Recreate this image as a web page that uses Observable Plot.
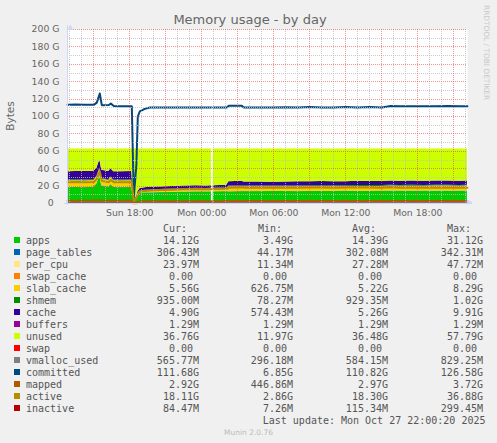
<!DOCTYPE html>
<html><head><meta charset="utf-8">
<script src="https://cdn.jsdelivr.net/npm/d3@7"></script>
<script src="https://cdn.jsdelivr.net/npm/@observablehq/plot@0.6"></script>
<style>
html,body{margin:0;padding:0;background:#F0F0F0;}
#wrap{position:relative;width:497px;height:443px;overflow:hidden;background:#F0F0F0;}
#chart{position:absolute;left:0;top:0;}
#overlay{position:absolute;left:0;top:0;pointer-events:none;}
</style></head>
<body><div id="wrap"><div id="chart"></div><svg id="overlay" width="497" height="443"></svg></div>
<script>
// ---- data (values in GB) ----
const times = [
"2025-10-26T12:49Z","2025-10-26T13:30Z","2025-10-26T14:15Z","2025-10-26T15:00Z","2025-10-26T15:15Z","2025-10-26T15:30Z","2025-10-26T15:40Z","2025-10-26T16:15Z","2025-10-26T16:25Z","2025-10-26T16:40Z","2025-10-26T17:15Z","2025-10-26T18:10Z",
"2025-10-26T18:20Z","2025-10-26T18:33Z","2025-10-26T18:40Z","2025-10-26T18:50Z",
"2025-10-26T19:15Z","2025-10-26T19:40Z","2025-10-26T20:30Z","2025-10-26T21:30Z","2025-10-26T22:30Z","2025-10-26T23:30Z",
"2025-10-27T00:20Z","2025-10-27T00:48Z","2025-10-27T00:57Z","2025-10-27T02:05Z",
"2025-10-27T02:15Z","2025-10-27T03:20Z","2025-10-27T03:30Z","2025-10-27T04:30Z","2025-10-27T06:00Z",
"2025-10-27T07:00Z","2025-10-27T08:00Z","2025-10-27T09:00Z","2025-10-27T10:00Z","2025-10-27T11:00Z","2025-10-27T12:00Z","2025-10-27T13:00Z","2025-10-27T14:00Z","2025-10-27T15:00Z",
"2025-10-27T15:45Z","2025-10-27T16:30Z","2025-10-27T17:30Z","2025-10-27T18:30Z","2025-10-27T19:30Z","2025-10-27T20:30Z","2025-10-27T21:30Z","2025-10-27T22:08Z"];
const gapAt = "2025-10-27T00:52Z"; // missing samples

const apps = [18.2,18.4,18.1,18.6,22.0,31.1,20.0,18.5,21.5,18.3,18.2,18.3, 3.49,5.5,9.5,11.6, 12.0,12.1,12.3,12.6,12.9,13.2, 13.1,13.2,13.3,13.5, 13.3,13.5,13.4,13.6,13.7, 13.8,13.6,13.9,13.7,13.8,14.0,13.8,13.9,14.0, 14.1,14.0,14.1,14.0,14.2,14.1,14.0,14.12];
const page_tables = [0.33,0.33,0.33,0.33,0.33,0.34,0.33,0.33,0.33,0.33,0.33,0.33, 0.044,0.1,0.2,0.25, 0.28,0.29,0.30,0.30,0.30,0.30, 0.30,0.30,0.30,0.30, 0.30,0.30,0.30,0.30,0.30, 0.30,0.30,0.30,0.30,0.30,0.30,0.30,0.30,0.30, 0.30,0.30,0.30,0.30,0.30,0.30,0.30,0.306];
const per_cpu = [0.03,0.03,0.03,0.03,0.03,0.03,0.03,0.03,0.03,0.03,0.03,0.03, 0.011,0.02,0.024,0.024, 0.024,0.024,0.024,0.024,0.024,0.024, 0.024,0.024,0.024,0.024, 0.024,0.024,0.024,0.024,0.024, 0.024,0.024,0.024,0.024,0.024,0.024,0.024,0.024,0.024, 0.024,0.024,0.024,0.024,0.024,0.024,0.024,0.024];
const swap_cache = [0,0,0,0,0,0,0,0,0,0,0,0, 0,0,0,0, 0,0,0,0,0,0, 0,0,0,0, 0,0,0,0,0, 0,0,0,0,0,0,0,0,0, 0,0,0,0,0,0,0,0];
const slab_cache = [7.4,7.4,7.5,7.6,7.7,8.2,7.5,7.5,7.6,7.4,7.4,7.5, 0.63,0.9,1.5,2.0, 2.3,2.5,2.7,2.9,3.0,3.2, 3.1,3.2,3.3,3.5, 5.6,5.8,5.4,5.2,5.1, 5.2,5.4,5.3,5.5,5.3,5.2,5.5,5.4,5.3, 5.6,5.4,5.5,5.4,5.5,5.6,5.5,5.56];
const shmem = [1.0,1.0,1.0,1.0,1.0,1.02,1.0,1.0,1.0,1.0,1.0,1.0, 0.078,0.15,0.3,0.45, 0.55,0.6,0.65,0.7,0.75,0.8, 0.8,0.8,0.8,0.82, 0.9,0.9,0.9,0.9,0.92, 0.92,0.93,0.93,0.93,0.93,0.93,0.93,0.93,0.93, 0.94,0.93,0.93,0.93,0.94,0.93,0.93,0.935];
const cache = [9.4,9.6,9.7,9.5,9.2,9.6,9.5,9.5,9.6,9.5,9.6,9.5, 0.574,1.0,1.8,2.6, 3.0,3.1,3.1,3.0,3.0,2.9, 2.7,2.8,2.8,2.9, 4.9,5.0,4.8,4.6,4.5, 4.6,4.7,4.6,4.8,4.7,4.6,4.9,4.8,4.7, 5.0,4.8,4.9,4.8,4.9,4.9,4.9,4.90];
const buffers = [0.0013,0.0013,0.0013,0.0013,0.0013,0.0013,0.0013,0.0013,0.0013,0.0013,0.0013,0.0013, 0.0013,0.0013,0.0013,0.0013, 0.0013,0.0013,0.0013,0.0013,0.0013,0.0013, 0.0013,0.0013,0.0013,0.0013, 0.0013,0.0013,0.0013,0.0013,0.0013, 0.0013,0.0013,0.0013,0.0013,0.0013,0.0013,0.0013,0.0013,0.0013, 0.0013,0.0013,0.0013,0.0013,0.0013,0.0013,0.0013,0.0013];
const unused = [26.24,25.84,25.94,25.54,22.34,12.32,24.24,25.74,22.54,26.04,26.04,25.94, 57.79,54.93,49.28,45.68, 44.45,43.99,43.53,43.08,42.63,42.18, 42.58,42.28,42.08,41.56, 37.58,37.08,37.78,37.98,38.06, 37.76,37.65,37.55,37.35,37.55,37.55,37.15,37.25,37.35, 36.64,37.15,36.85,37.15,36.74,36.75,36.95,36.76];
const swap = [0,0,0,0,0,0,0,0,0,0,0,0, 0,0,0,0, 0,0,0,0,0,0, 0,0,0,0, 0,0,0,0,0, 0,0,0,0,0,0,0,0,0, 0,0,0,0,0,0,0,0];
const vmalloc_used = [0.62,0.62,0.62,0.62,0.62,0.62,0.62,0.62,0.62,0.62,0.62,0.62, 0.296,0.35,0.45,0.5, 0.55,0.56,0.57,0.58,0.58,0.58, 0.58,0.58,0.58,0.58, 0.58,0.58,0.58,0.58,0.58, 0.58,0.58,0.58,0.58,0.58,0.58,0.58,0.58,0.58, 0.57,0.58,0.58,0.57,0.58,0.57,0.57,0.566];
const committed = [113.6,113.8,113.6,113.4,116.0,126.5,113.0,113.2,114.8,112.0,111.8,111.9, 6.85,45.0,100.0,106.0, 108.8,110.3,110.3,110.4,110.3,110.4, 110.3,110.3,110.3,110.3, 112.3,112.3,110.3,110.4,110.3, 110.5,110.3,110.8,110.4,110.3,110.9,110.4,110.8,110.4, 112.0,111.7,111.8,111.7,111.8,112.2,111.8,111.68];
const mapped = [3.3,3.3,3.3,3.4,3.5,3.72,3.4,3.3,3.4,3.3,3.3,3.3, 0.447,1.2,2.0,2.4, 2.5,2.5,2.6,2.6,2.6,2.7, 2.7,2.7,2.7,2.7, 2.9,2.9,2.9,2.9,2.9, 2.9,3.0,2.9,3.0,2.9,3.0,3.0,2.9,3.0, 3.0,2.9,3.0,2.9,3.0,2.9,2.9,2.92];
const active = [24.4,24.6,24.3,24.8,28.0,36.8,26.0,24.5,27.0,24.4,24.3,24.4, 2.86,6.0,10.0,13.5, 14.5,15.0,15.4,15.9,16.3,16.6, 16.3,16.5,16.6,16.9, 18.2,18.6,18.2,18.0,18.0, 18.1,18.2,18.3,18.3,18.2,18.3,18.4,18.3,18.2, 18.6,18.2,18.1,18.2,18.2,18.1,18.1,18.11];
const inactive = [0.25,0.27,0.26,0.28,0.29,0.3,0.27,0.26,0.28,0.25,0.24,0.24, 0.007,0.02,0.04,0.06, 0.08,0.09,0.1,0.1,0.11,0.11, 0.11,0.11,0.11,0.12, 0.12,0.12,0.11,0.11,0.12, 0.11,0.12,0.11,0.12,0.11,0.12,0.11,0.11,0.12, 0.1,0.09,0.1,0.09,0.09,0.09,0.08,0.084];

// legend
const names = ["apps","page_tables","per_cpu","swap_cache","slab_cache","shmem","cache","buffers","unused","swap","vmalloc_used","committed","mapped","active","inactive"];
const colors = ["#00CC00","#0066B3","#FFE680","#FF8000","#FFCC00","#008F00","#330099","#990099","#CCFF00","#FF0000","#808080","#00487D","#B35A00","#B38F00","#B30000"];
const curVals = ["14.12G","306.43M","23.97M","0.00","5.56G","935.00M","4.90G","1.29M","36.76G","0.00","565.77M","111.68G","2.92G","18.11G","84.47M"];
const minVals = ["3.49G","44.17M","11.34M","0.00","626.75M","78.27M","574.43M","1.29M","11.97G","0.00","296.18M","6.85G","446.86M","2.86G","7.26M"];
const avgVals = ["14.39G","302.08M","27.28M","0.00","5.22G","929.35M","5.26G","1.29M","36.48G","0.00","584.15M","110.82G","2.97G","18.30G","115.34M"];
const maxVals = ["31.12G","342.31M","47.72M","0.00","8.29G","1.02G","9.91G","1.29M","57.79G","0.00","829.25M","126.58G","3.72G","36.88G","299.45M"];
const colHeads = ["Cur:","Min:","Avg:","Max:"];

const yTicks = [0,20,40,60,80,100,120,140,160,180,200];
const yMinor = [10,30,50,70,90,110,130,150,170,190];
const xTicks = ["2025-10-26T18:00Z","2025-10-27T00:00Z","2025-10-27T06:00Z","2025-10-27T12:00Z","2025-10-27T18:00Z"].map(s => new Date(s));
const xDomain = [new Date("2025-10-26T12:48:30Z"), new Date("2025-10-27T22:08:30Z")];

// ---- build rows ----
const byName = {apps,page_tables,per_cpu,swap_cache,slab_cache,shmem,cache,buffers,unused,swap,vmalloc_used,committed,mapped,active,inactive};
const areaNames = names.slice(0,10), lineNames = names.slice(10);
const lineWidths = {vmalloc_used: 2, committed: 2, mapped: 2, active: 2, inactive: 1};
const gapDate = new Date(gapAt);
const dates = times.map(s => new Date(s));
const areaRows = [], lineRows = [];
dates.forEach((t,i) => {
  const seg = t > gapDate ? 1 : 0;
  areaNames.forEach(n => areaRows.push({t, series:n, key:n+seg, v:byName[n][i]}));
});
lineNames.forEach(n => dates.forEach((t,i) => {
  const seg = t > gapDate ? 1 : 0;
  lineRows.push({t, series:n, key:n+seg, v:byName[n][i]});
}));

const hours = d3.utcHour.range(xDomain[0], xDomain[1]);
const xMajor = hours.filter(d => d.getUTCHours() % 3 === 0);
const xMinorG = hours.filter(d => d.getUTCHours() % 3 !== 0);
const axisC = "#CFD6F8";
const gridC = "rgba(191,191,191,0.8)", mgridC = "rgba(222,79,79,0.6)";

const chart = Plot.plot({
  width: 497, height: 220,
  marginLeft: 67, marginRight: 30, marginTop: 29, marginBottom: 17,
  style: {background: "transparent", fontFamily: "'DejaVu Sans', sans-serif", fontSize: "9.3px", color: "#666", overflow: "visible"},
  x: {type: "utc", domain: xDomain, ticks: xTicks, tickFormat: d3.utcFormat("%a %H:%M"), tickSize: 0, tickPadding: 6, label: null},
  y: {domain: [0,200], ticks: yTicks, tickFormat: d => d === 0 ? "0\u00a0\u00a0" : d + " G", tickSize: 0, tickPadding: 8, label: null},
  color: {domain: names, range: colors},
  marks: [
    Plot.frame({fill: "white", stroke: "none"}),
    Plot.areaY(areaRows, {x: "t", y: "v", z: "key", fill: "series", curve: "linear"}),
    ...lineNames.map(n => Plot.lineY(lineRows.filter(r => r.series === n), {x: "t", y: "v", z: "key", stroke: "series", strokeWidth: lineWidths[n], curve: "linear"})),
    Plot.ruleY(yMinor, {stroke: gridC, strokeDasharray: "1,1", shapeRendering: "crispEdges"}),
    Plot.ruleX(xMinorG, {stroke: gridC, strokeDasharray: "1,1", shapeRendering: "crispEdges"}),
    Plot.ruleY(yTicks.filter(d => d > 0), {stroke: mgridC, strokeDasharray: "1,1", shapeRendering: "crispEdges"}),
    Plot.ruleX(xMajor, {stroke: mgridC, strokeDasharray: "1,1", shapeRendering: "crispEdges"}),
    Plot.ruleX([xDomain[0]], {stroke: axisC, insetTop: -4, insetBottom: -2, shapeRendering: "crispEdges"}),
    Plot.ruleY([0], {stroke: axisC, insetRight: -5, insetLeft: -3, shapeRendering: "crispEdges"}),
    Plot.text([0], {frameAnchor: "top-left", text: () => "\u25B2", fill: axisC, fontSize: 7, dy: -5}),
    Plot.text([0], {frameAnchor: "bottom-right", text: () => "\u25B6", fill: axisC, fontSize: 7, dx: 5})
  ]
});
document.getElementById("chart").appendChild(chart);

// ---- overlay texts & legend ----
const ov = d3.select("#overlay");
const sans = "'DejaVu Sans', sans-serif", mono = "'DejaVu Sans Mono', monospace";
ov.append("text").attr("x", 250).attr("y", 24).attr("text-anchor", "middle")
  .attr("font-family", sans).attr("font-size", 13).attr("fill", "#666").text("Memory usage - by day");
ov.append("text").attr("transform", "translate(13.5,116) rotate(-90)").attr("text-anchor", "middle")
  .attr("font-family", sans).attr("font-size", 10.5).attr("fill", "#666").text("Bytes");
ov.append("text").attr("transform", "translate(484,5) rotate(90)").attr("text-anchor", "start")
  .attr("font-family", sans).attr("font-size", 7.4).attr("fill", "#c8c8c8").text("RRDTOOL / TOBI OETIKER");

const legC = "#555";
const headX = [163, 258, 352, 447], valX = [199, 293, 388, 483];
colHeads.forEach((h, j) => ov.append("text").attr("x", headX[j]).attr("y", 231.5)
  .attr("font-family", mono).attr("font-size", 10).attr("fill", legC).text(h));
const cols = [curVals, minVals, avgVals, maxVals];
names.forEach((n, i) => {
  const by = 243.5 + 12 * i;
  ov.append("rect").attr("x", 14).attr("y", by - 6.5).attr("width", 6).attr("height", 6).attr("fill", colors[i]);
  ov.append("text").attr("x", 26).attr("y", by).attr("font-family", mono).attr("font-size", 10).attr("fill", legC).text(n);
  cols.forEach((arr, j) => {
    const s = arr[i];
    const shift = /\d$/.test(s) ? 6 : 0;
    ov.append("text").attr("x", valX[j] - shift).attr("y", by).attr("text-anchor", "end")
      .attr("font-family", mono).attr("font-size", 10).attr("fill", legC).text(s);
  });
});
ov.append("text").attr("x", 485.5).attr("y", 423.5).attr("text-anchor", "end")
  .attr("font-family", mono).attr("font-size", 10).attr("fill", legC).text("Last update: Mon Oct 27 22:00:20 2025");
ov.append("text").attr("x", 248.5).attr("y", 435).attr("text-anchor", "middle")
  .attr("font-family", sans).attr("font-size", 7.5).attr("fill", "#bbb").text("Munin 2.0.76");
</script>
</body></html>
